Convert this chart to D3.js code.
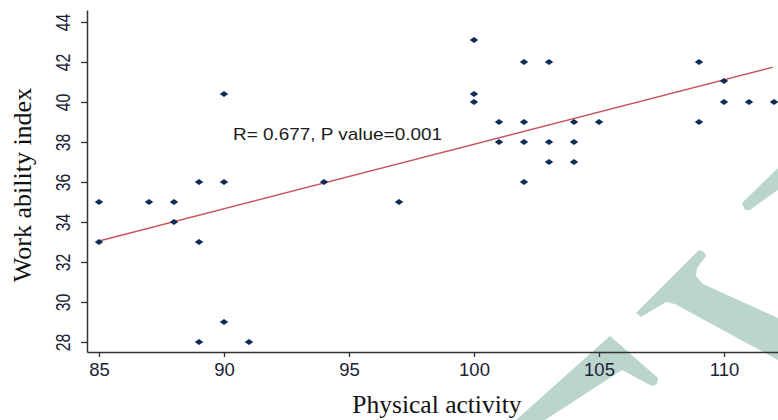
<!DOCTYPE html>
<html lang="en">

<head>
    <meta charset="UTF-8">
    <title>Work ability vs physical activity</title>
    <script src="https://cdn.jsdelivr.net/npm/d3@7"></script>
    <style>
        body { margin: 0; background: #fff; }
        svg { display: block; }
    </style>
</head>

<body>
    <svg id="chart" width="778" height="420"></svg>

    <script>
        // data
        const activity = [85, 87, 88, 89, 90, 90, 88, 85, 89, 89, 90, 91, 94, 97,
            100, 100, 100, 101, 101, 102, 102, 102, 102, 103, 103, 103,
            104, 104, 104, 105, 109, 109, 110, 110, 111, 112]
        const workAbility = [35, 35, 35, 36, 36, 40.4, 34, 33, 33, 28, 29, 28, 36, 35,
            43.1, 40.4, 40, 39, 38, 42, 39, 38, 36, 42, 38, 37,
            39, 38, 37, 39, 42, 39, 41.05, 40, 40, 40]
        const xTicks = [85, 90, 95, 100, 105, 110]
        const yTicks = [28, 30, 32, 34, 36, 38, 40, 42, 44]
        const fitLine = [[85, 33.05], [111.96, 41.74]]
        const annotation = 'R= 0.677, P value=0.001'

        const svg = d3.select('#chart')

        // faint watermark shapes from the source page
        const watermark = [
            'M742,203 L778,168 L778,190 L772,194 L750,210 L745,210 Z',
            'M699,250 L704,252 L706,256 L697,268 L696,276 L703,284 L778,318 L778,360 L675,304 L666,302 L641,317 L636,313 Z',
            'M610,336 L658,378 L657,384 L652,386 L622,370 L545,420 L516,420 Z'
        ]
        svg.selectAll('path.wm')
            .data(watermark)
            .join('path')
            .attr('class', 'wm')
            .attr('d', d => d)
            .attr('fill', '#b9d5cd')

        const x = d3.scaleLinear().domain([84.52, 112.16]).range([87, 778])
        const y = d3.scaleLinear().domain([27.5, 44.6]).range([352, 10])

        // x axis
        const gx = svg.append('g')
            .attr('transform', 'translate(0,352)')
            .call(d3.axisBottom(x).tickValues(xTicks).tickSize(5).tickSizeOuter(0).tickPadding(6))
        gx.select('.domain').attr('stroke', '#333').attr('stroke-width', 1.5)
        gx.selectAll('.tick line').attr('stroke', '#333').attr('stroke-width', 1.3)
        gx.selectAll('.tick text')
            .attr('font-family', 'Arial, "Liberation Sans", sans-serif')
            .attr('font-size', 18.5)
            .attr('fill', '#1b2236')

        // y axis
        const gy = svg.append('g')
            .attr('transform', 'translate(87,0)')
            .call(d3.axisLeft(y).tickValues(yTicks).tickSize(6).tickSizeOuter(0))
        gy.select('.domain').attr('stroke', '#333').attr('stroke-width', 1.5)
        gy.selectAll('.tick line').attr('stroke', '#333').attr('stroke-width', 1.3)
        gy.selectAll('.tick text')
            .attr('x', null)
            .attr('dy', null)
            .attr('text-anchor', 'middle')
            .attr('transform', 'translate(-17,0) rotate(-90) scale(0.88,1.15)')
            .attr('font-family', 'Arial, "Liberation Sans", sans-serif')
            .attr('font-size', 18)
            .attr('fill', '#1b2236')

        // regression line
        svg.append('line')
            .attr('x1', x(fitLine[0][0]))
            .attr('y1', y(fitLine[0][1]))
            .attr('x2', x(fitLine[1][0]))
            .attr('y2', y(fitLine[1][1]))
            .attr('stroke', '#c8555a')
            .attr('stroke-width', 1.3)

        // points
        const points = activity.map((a, i) => ({ a: a, w: workAbility[i] }))
        svg.selectAll('path.pt')
            .data(points)
            .join('path')
            .attr('class', 'pt')
            .attr('d', 'M-4.2,0 L0,-3 L4.2,0 L0,3 Z')
            .attr('transform', d => `translate(${x(d.a)},${y(d.w)})`)
            .attr('fill', '#0c2b55')

        // annotation
        svg.append('text')
            .attr('x', 233)
            .attr('y', 140)
            .attr('font-family', 'Arial, "Liberation Sans", sans-serif')
            .attr('font-size', 17)
            .attr('textLength', 209)
            .attr('lengthAdjust', 'spacingAndGlyphs')
            .attr('fill', '#1b1b1b')
            .text(annotation)

        // axis titles
        svg.append('text')
            .attr('x', 437)
            .attr('y', 413)
            .attr('text-anchor', 'middle')
            .attr('font-family', '"Times New Roman", "Liberation Serif", serif')
            .attr('font-size', 25.5)
            .attr('fill', '#111')
            .text('Physical activity')

        svg.append('text')
            .attr('transform', 'translate(31,185) rotate(-90)')
            .attr('text-anchor', 'middle')
            .attr('font-family', '"Times New Roman", "Liberation Serif", serif')
            .attr('font-size', 26)
            .attr('fill', '#111')
            .text('Work ability index')
    </script>
</body>

</html>
